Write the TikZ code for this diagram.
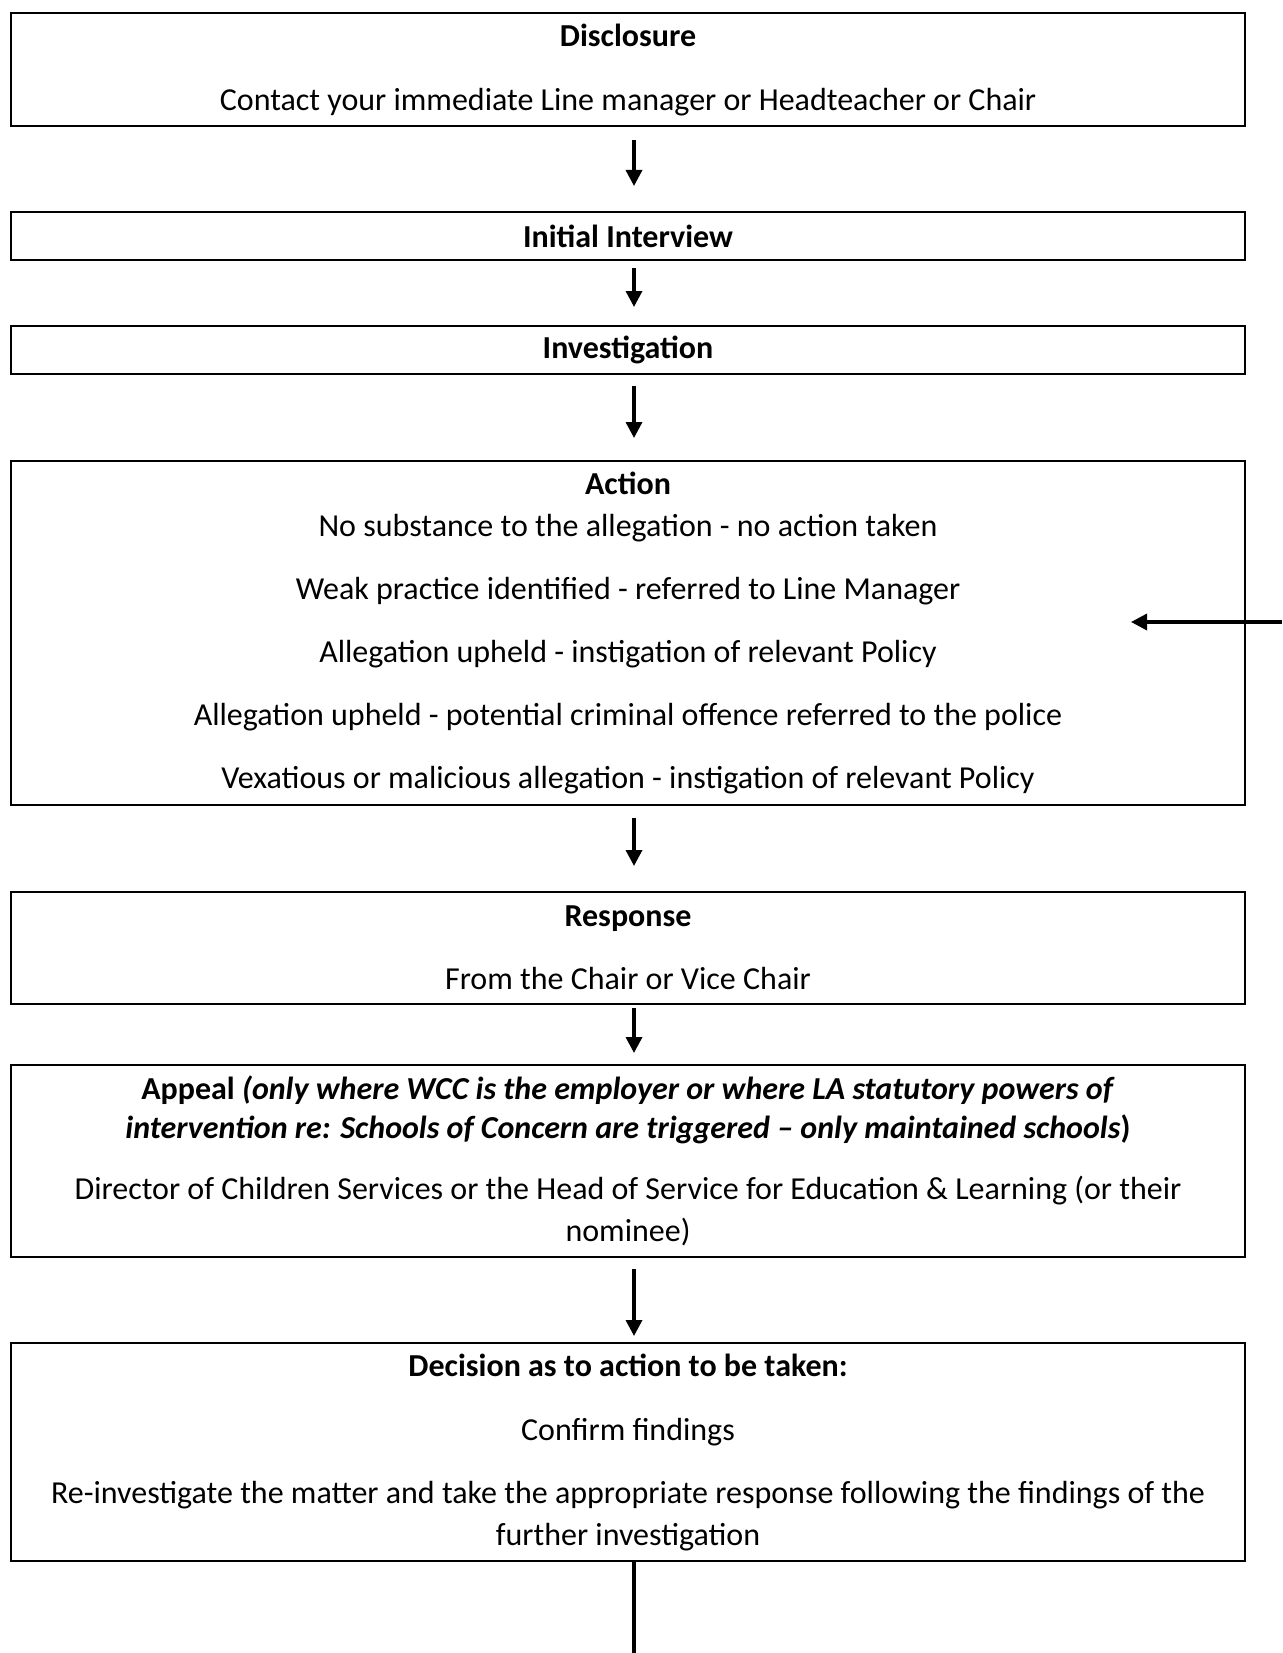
\documentclass[tikz,border=0pt]{standalone}
\usepackage{fontspec}
\setmainfont{Carlito}
\usetikzlibrary{arrows.meta}

\begin{document}
\begin{tikzpicture}[x=1pt, y=-1pt,
    box/.style={draw, line width=2pt, minimum width=1234pt, inner sep=0pt, align=center, font=\fontsize{32}{42}\selectfont},
    flow/.style={line width=3.4pt, -{Triangle[width=16pt,length=16pt]}}]
    \useasboundingbox (0,0) rectangle (1282,1653);
    \node[box, minimum height=113.8pt](disc) at (628,69.6){\textbf{Disclosure}\\[22pt]Contact your immediate Line manager or Headteacher or Chair};
    \node[box, minimum height=48pt](init) at (628,236){\textbf{Initial Interview}};
    \node[box, minimum height=48pt](invest) at (628,350){\textbf{Investigation}};
    \node[box, minimum height=344pt](action) at (628,633){\textbf{Action}\\No substance to the allegation - no action taken\\[21pt]Weak practice identified - referred to Line Manager\\[21pt]Allegation upheld - instigation of relevant Policy\\[21pt]Allegation upheld - potential criminal offence referred to the police\\[21pt]Vexatious or malicious allegation - instigation of relevant Policy};
    \node[box, minimum height=112pt](resp) at (628,948){\textbf{Response}\\[21pt]From the Chair or Vice Chair};
    \node[box, minimum height=192pt](appeal) at (628,1161){\textbf{Appeal \textit{(only where WCC is the employer or where LA statutory powers of}}\\[-3pt]\textbf{\textit{intervention re: Schools of Concern are triggered -- only maintained schools})}\\[19pt]Director of Children Services or the Head of Service for Education \& Learning (or their\\nominee)};
    \node[box, minimum height=218pt](decis) at (628,1452){\textbf{Decision as to action to be taken:}\\[22pt]Confirm findings\\[21pt]Re-investigate the matter and take the appropriate response following the findings of the\\further investigation};
    \draw[flow, shorten <=12.5pt, shorten >=25pt]([xshift=6pt]disc.south)--([xshift=6pt]init.north);
    \draw[flow, shorten <=7pt, shorten >=18pt]([xshift=6pt]init.south)--([xshift=6pt]invest.north);
    \draw[flow, shorten <=11pt, shorten >=22pt]([xshift=6pt]invest.south)--([xshift=6pt]action.north);
    \draw[flow, shorten <=12pt, shorten >=25pt]([xshift=6pt]action.south)--([xshift=6pt]resp.north);
    \draw[flow, shorten <=3pt, shorten >=11pt]([xshift=6pt]resp.south)--([xshift=6pt]appeal.north);
    \draw[flow, shorten <=11pt, shorten >=6pt]([xshift=6pt]appeal.south)--([xshift=6pt]decis.north);
    \coordinate (feed) at (1282,622);
    \coordinate (feedtip) at (1131,622);
    \draw[flow](feed)--(feedtip);
    \coordinate (out) at (634,1653);
    \draw[line width=4.4pt]([xshift=6pt]decis.south)--(out);
\end{tikzpicture}
\end{document}
